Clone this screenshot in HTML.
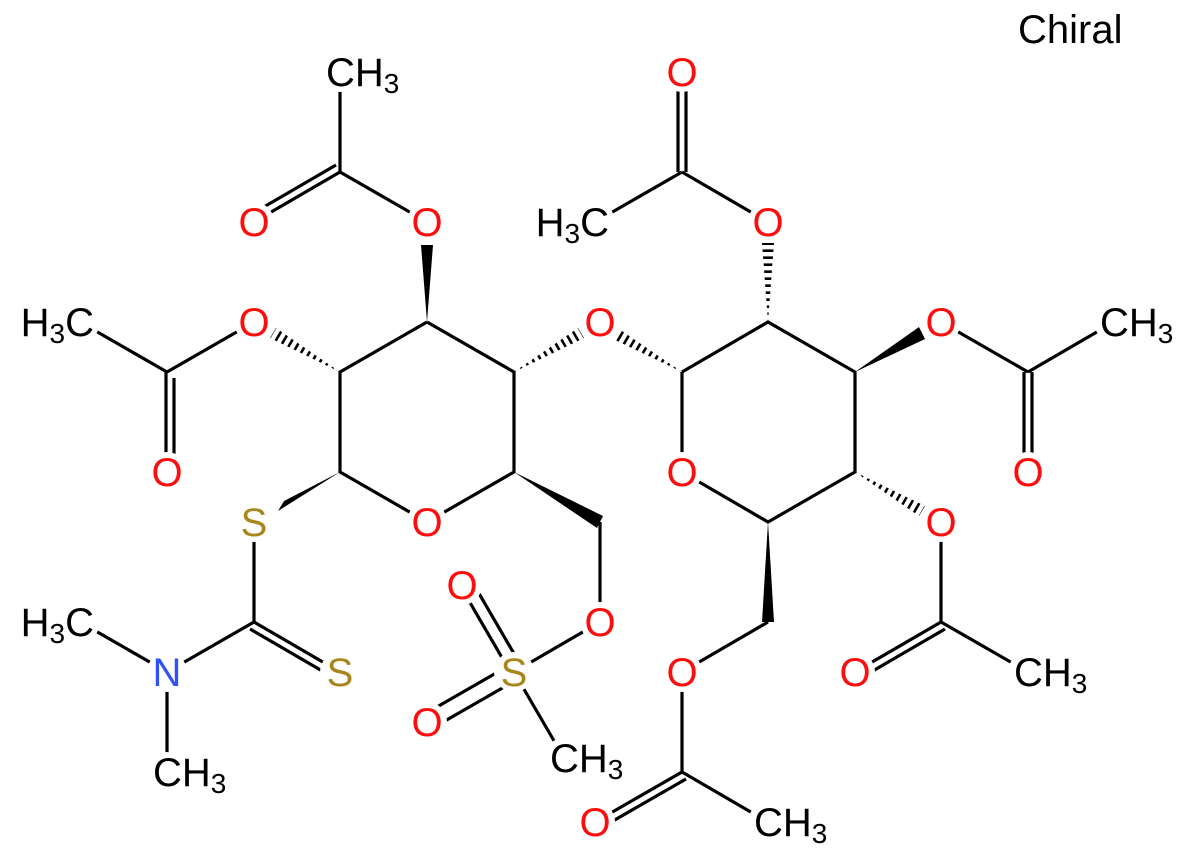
<!DOCTYPE html>
<html><head><meta charset="utf-8"><style>
html,body{margin:0;padding:0;background:#fff;}
svg{display:block;}
text{font-family:"Liberation Sans",Arial,sans-serif;font-size:40px;}
.o{fill:#ff0d0d;text-anchor:middle;}
.s{fill:#a8861c;text-anchor:middle;}
.n{fill:#3050f8;text-anchor:middle;}
.k{fill:#000;}
</style></head><body>
<svg width="1198" height="856" viewBox="0 0 1198 856" xmlns="http://www.w3.org/2000/svg">
<defs>
<clipPath id="h1" clipPathUnits="userSpaceOnUse"><polygon points="340,372 276,328 270,338"/></clipPath>
<clipPath id="h2" clipPathUnits="userSpaceOnUse"><polygon points="514,372 584,338 578,328"/></clipPath>
<clipPath id="h3" clipPathUnits="userSpaceOnUse"><polygon points="682,372 619,329 613,339"/></clipPath>
<clipPath id="h4" clipPathUnits="userSpaceOnUse"><polygon points="768,322 762,243 774,243"/></clipPath>
<clipPath id="h5" clipPathUnits="userSpaceOnUse"><polygon points="855,472 919,516 925,506"/></clipPath>
</defs>
<g stroke="#000" stroke-width="3.2" fill="none" stroke-linecap="butt">
<polyline points="427,322 340,372 340,472 427,522 514,472 514,372 427,322"/>
<line x1="254" y1="522" x2="254" y2="622"/>
<line x1="254" y1="622" x2="340" y2="672"/>
<line x1="250" y1="629" x2="336" y2="679"/>
<line x1="254" y1="622" x2="167" y2="672"/>
<line x1="167" y1="672" x2="80" y2="622"/>
<line x1="167" y1="672" x2="167" y2="772"/>
<line x1="254" y1="322" x2="167" y2="372"/>
<line x1="167" y1="372" x2="80" y2="322"/>
<line x1="166" y1="372" x2="166" y2="472"/>
<line x1="174" y1="378" x2="174" y2="472"/>
<line x1="427" y1="222" x2="340" y2="172"/>
<line x1="340" y1="172" x2="340" y2="72"/>
<line x1="340" y1="172" x2="254" y2="222"/>
<line x1="336" y1="165" x2="250" y2="215"/>
<line x1="600" y1="522" x2="600" y2="622"/>
<line x1="600" y1="622" x2="514" y2="672"/>
<line x1="508" y1="668" x2="458" y2="582"/>
<line x1="520" y1="664" x2="470" y2="578"/>
<line x1="510" y1="665" x2="423" y2="715"/>
<line x1="518" y1="679" x2="431" y2="729"/>
<line x1="514" y1="672" x2="564" y2="758"/>
<polyline points="682,372 768,322 855,372 855,472 768,522 682,472 682,372"/>
<line x1="768" y1="222" x2="682" y2="172"/>
<line x1="682" y1="172" x2="595" y2="222"/>
<line x1="678" y1="172" x2="678" y2="72"/>
<line x1="686" y1="172" x2="686" y2="72"/>
<line x1="941" y1="322" x2="1028" y2="372"/>
<line x1="1028" y1="372" x2="1114" y2="322"/>
<line x1="1024" y1="372" x2="1024" y2="472"/>
<line x1="1032" y1="372" x2="1032" y2="472"/>
<line x1="941" y1="522" x2="941" y2="622"/>
<line x1="941" y1="622" x2="1028" y2="672"/>
<line x1="941" y1="622" x2="855" y2="672"/>
<line x1="945" y1="629" x2="859" y2="679"/>
<line x1="768" y1="622" x2="682" y2="672"/>
<line x1="682" y1="672" x2="682" y2="772"/>
<line x1="682" y1="772" x2="768" y2="822"/>
<line x1="682" y1="772" x2="595" y2="822"/>
<line x1="686" y1="779" x2="599" y2="829"/>
</g>
<g stroke="#000" stroke-width="14" stroke-dasharray="2.6 4.4" fill="none">
<line x1="340" y1="372" x2="270" y2="331" clip-path="url(#h1)"/>
<line x1="514" y1="372" x2="585" y2="331" clip-path="url(#h2)"/>
<line x1="682" y1="372" x2="612" y2="331" clip-path="url(#h3)"/>
<line x1="768" y1="322" x2="768" y2="240" clip-path="url(#h4)"/>
<line x1="855" y1="472" x2="926" y2="513" clip-path="url(#h5)"/>
</g>
<g fill="#000">
<polygon points="340,472 278,511 284,501"/>
<polygon points="427,322 421,245 433,245"/>
<polygon points="514,472 597,528 603,516"/>
<polygon points="855,372 919,327 925,339"/>
<polygon points="768,522 762,622 774,622"/>
</g>
<!-- masks -->
<g fill="#fff">
<circle cx="254" cy="322" r="20"/><circle cx="167" cy="472" r="20"/><circle cx="80" cy="322" r="20"/>
<circle cx="427" cy="222" r="20"/><circle cx="254" cy="222" r="20"/><circle cx="340" cy="72" r="20"/>
<circle cx="427" cy="522" r="20"/><circle cx="254" cy="522" r="20"/><circle cx="340" cy="672" r="20"/>
<circle cx="167" cy="672" r="20"/><circle cx="80" cy="622" r="20"/><circle cx="167" cy="772" r="20"/>
<circle cx="600" cy="322" r="20"/><circle cx="600" cy="622" r="20"/><circle cx="514" cy="672" r="20"/>
<circle cx="462" cy="585" r="20"/><circle cx="427" cy="722" r="20"/><circle cx="564" cy="758" r="20"/>
<circle cx="682" cy="472" r="20"/><circle cx="768" cy="222" r="20"/><circle cx="682" cy="72" r="20"/>
<circle cx="595" cy="222" r="20"/><circle cx="941" cy="322" r="20"/><circle cx="1028" cy="472" r="20"/>
<circle cx="1114" cy="322" r="20"/><circle cx="941" cy="522" r="20"/><circle cx="855" cy="672" r="20"/>
<circle cx="1028" cy="672" r="20"/><circle cx="682" cy="672" r="20"/><circle cx="595" cy="822" r="20"/>
<circle cx="768" cy="822" r="20"/>
</g>
<g>
<text class="o" x="254" y="336">O</text>
<text class="o" x="167" y="486">O</text>
<text class="k" x="94" y="336" text-anchor="end">H<tspan font-size="28" dy="7">3</tspan><tspan dy="-7">C</tspan></text>
<text class="o" x="427" y="236">O</text>
<text class="o" x="254" y="236">O</text>
<text class="k" x="326" y="86">CH<tspan font-size="28" dy="7">3</tspan></text>
<text class="o" x="427" y="536">O</text>
<text class="s" x="254" y="536">S</text>
<text class="s" x="340" y="686">S</text>
<text class="n" x="167" y="686">N</text>
<text class="k" x="94" y="636" text-anchor="end">H<tspan font-size="28" dy="7">3</tspan><tspan dy="-7">C</tspan></text>
<text class="k" x="153" y="786">CH<tspan font-size="28" dy="7">3</tspan></text>
<text class="o" x="600" y="336">O</text>
<text class="o" x="600" y="636">O</text>
<text class="s" x="514" y="686">S</text>
<text class="o" x="462" y="599">O</text>
<text class="o" x="427" y="736">O</text>
<text class="k" x="550" y="772">CH<tspan font-size="28" dy="7">3</tspan></text>
<text class="o" x="682" y="486">O</text>
<text class="o" x="768" y="236">O</text>
<text class="o" x="682" y="86">O</text>
<text class="k" x="609" y="236" text-anchor="end">H<tspan font-size="28" dy="7">3</tspan><tspan dy="-7">C</tspan></text>
<text class="o" x="941" y="336">O</text>
<text class="o" x="1028" y="486">O</text>
<text class="k" x="1100" y="336">CH<tspan font-size="28" dy="7">3</tspan></text>
<text class="o" x="941" y="536">O</text>
<text class="o" x="855" y="686">O</text>
<text class="k" x="1014" y="686">CH<tspan font-size="28" dy="7">3</tspan></text>
<text class="o" x="682" y="686">O</text>
<text class="o" x="595" y="836">O</text>
<text class="k" x="754" y="836">CH<tspan font-size="28" dy="7">3</tspan></text>
<text class="k" x="1018" y="43">Chiral</text>
</g>
</svg>
</body></html>
